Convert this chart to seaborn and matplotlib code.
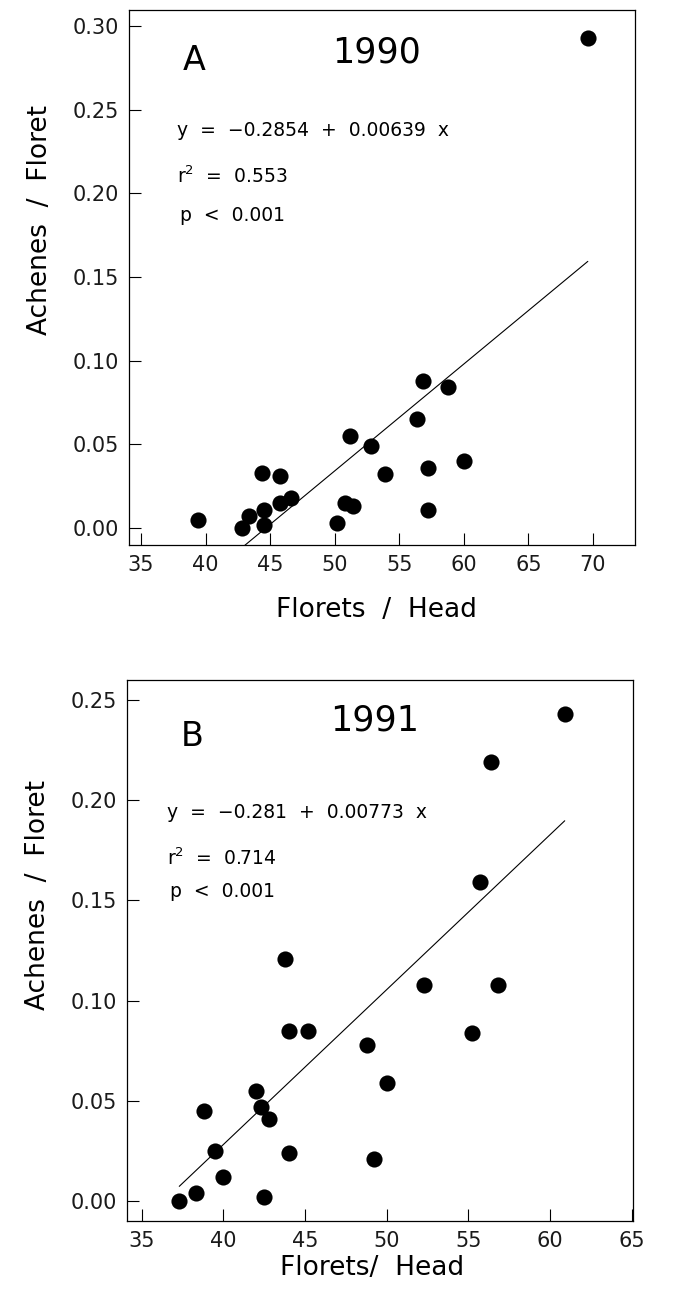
import numpy as np
import pandas as pd
import seaborn as sns
import matplotlib.pyplot as plt

# ---------------------------
# Data
# ---------------------------
florets_1990 = [39.4, 42.8, 43.4, 44.4, 44.5, 44.5, 45.8, 45.8, 46.6, 50.2, 50.8,
                51.4, 51.2, 52.8, 53.9, 56.4, 56.8, 57.2, 57.2, 58.8, 60.0, 69.6]
achenes_1990 = [0.005, 0.000, 0.007, 0.033, 0.011, 0.002, 0.031, 0.015, 0.018, 0.003, 0.015,
                0.013, 0.055, 0.049, 0.032, 0.065, 0.088, 0.036, 0.011, 0.084, 0.040, 0.293]

florets_1991 = [37.3, 38.3, 38.8, 39.5, 40.0, 42.0, 42.3, 42.8, 42.5, 43.8, 44.0,
                44.0, 45.2, 48.8, 49.2, 50.0, 52.3, 55.2, 56.8, 55.7, 56.4, 60.9]
achenes_1991 = [0.000, 0.004, 0.045, 0.025, 0.012, 0.055, 0.047, 0.041, 0.002, 0.121, 0.024,
                0.085, 0.085, 0.078, 0.021, 0.059, 0.108, 0.084, 0.108, 0.159, 0.219, 0.243]

# regression lines as printed on the figure
fit_1990 = (-0.2854, 0.00639)
fit_1991 = (-0.281, 0.00773)

panels = [
    dict(x=florets_1990, y=achenes_1990, fit=fit_1990, letter='A', year='1990',
         eq='y  =  \u22120.2854  +  0.00639  x', r2='0.553', xlabel='Florets  /  Head',
         xlim=(34.07, 73.25), ylim=(-0.0102, 0.3096),
         xticks=[35, 40, 45, 50, 55, 60, 65, 70], yticks=[0, 0.05, 0.10, 0.15, 0.20, 0.25, 0.30],
         rect=[0.1905, 0.5801, 0.7474, 0.4122], xlab_xy=(0.49, -0.121), ylab_xy=(-0.176, 0.607),
         letter_xy=(0.128, 0.905), year_xy=(0.49, 0.92), eq_xy=(0.095, 0.775), r2_xy=(0.095, 0.69),
         p_xy=(0.1, 0.615)),
    dict(x=florets_1991, y=achenes_1991, fit=fit_1991, letter='B', year='1991',
         eq='y  =  \u22120.281  +  0.00773  x', r2='0.714', xlabel='Florets/  Head',
         xlim=(34.1, 65.08), ylim=(-0.00998, 0.26),
         xticks=[35, 40, 45, 50, 55, 60, 65], yticks=[0, 0.05, 0.10, 0.15, 0.20, 0.25],
         rect=[0.1876, 0.0593, 0.7474, 0.4168], xlab_xy=(0.484, -0.087), ylab_xy=(-0.176, 0.603),
         letter_xy=(0.128, 0.895), year_xy=(0.49, 0.925), eq_xy=(0.08, 0.755), r2_xy=(0.08, 0.67),
         p_xy=(0.085, 0.61)),
]

# ---------------------------
# Plot
# ---------------------------
sns.set_style('ticks')
plt.rcParams['font.family'] = ['DejaVu Sans']
plt.rcParams['text.color'] = 'black'

fig = plt.figure(figsize=(6.77, 12.98), dpi=100)

for p in panels:
    ax = fig.add_axes(p['rect'])
    df = pd.DataFrame({'x': p['x'], 'y': p['y']})
    sns.scatterplot(data=df, x='x', y='y', ax=ax, s=135, color='black',
                    edgecolor='black', linewidth=0, zorder=3)

    a, b = p['fit']
    lx = np.array([min(p['x']), max(p['x'])])
    line = pd.DataFrame({'x': lx, 'y': a + b * lx})
    sns.lineplot(data=line, x='x', y='y', ax=ax, color='black', linewidth=0.8)

    ax.set_xlim(*p['xlim'])
    ax.set_ylim(*p['ylim'])
    ax.set_xticks(p['xticks'])
    ax.set_yticks(p['yticks'])
    ax.set_yticklabels([f'{v:.2f}' for v in p['yticks']])
    ax.tick_params(direction='in', length=8.5, width=0.8, labelsize=15,
                   labelcolor='#1a1a1a', color='black', pad=7, top=False, right=False)
    for s in ax.spines.values():
        s.set_visible(True)
        s.set_linewidth(0.9)
        s.set_color('black')

    ax.set_xlabel(p['xlabel'], fontsize=19, color='black')
    ax.set_ylabel('Achenes  /  Floret', fontsize=19, color='black')
    ax.xaxis.set_label_coords(*p['xlab_xy'])
    ax.yaxis.set_label_coords(*p['ylab_xy'])
    ax.xaxis.label.set_va('center')
    ax.yaxis.label.set_va('center')

    ax.text(*p['letter_xy'], p['letter'], transform=ax.transAxes, fontsize=24,
            ha='center', va='center')
    ax.text(*p['year_xy'], p['year'], transform=ax.transAxes, fontsize=25,
            ha='center', va='center')
    ax.text(*p['eq_xy'], p['eq'], transform=ax.transAxes, fontsize=13.5, va='center')
    ax.text(*p['r2_xy'], r'r$^{2}$  =  ' + p['r2'], transform=ax.transAxes, fontsize=13.5, va='center')
    ax.text(*p['p_xy'], 'p  <  0.001', transform=ax.transAxes, fontsize=13.5, va='center')

fig.savefig('out.png', dpi=100, facecolor='white')
